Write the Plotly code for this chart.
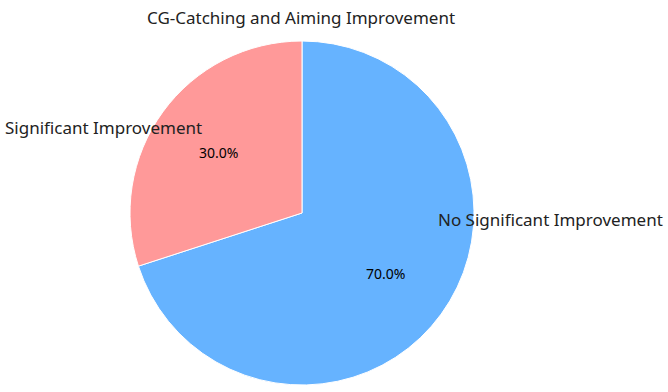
import math
import plotly.graph_objects as go

title = "CG-Catching and Aiming Improvement"
labels = ["Significant Improvement", "No Significant Improvement"]
values = [30, 70]
colors = ["#ff9999", "#66b3ff"]

W, H = 668, 392
cx, cy, r = 302, 213, 172

# plotly draws slices clockwise from 12 o'clock; reverse so the first category
# runs counterclockwise from the top as in the reference
fig = go.Figure(go.Pie(
    labels=labels[::-1], values=values[::-1], sort=False, direction="clockwise",
    rotation=0, marker=dict(colors=colors[::-1], line=dict(color="white", width=1)),
    textinfo="none", hoverinfo="label+percent", showlegend=False,
    domain=dict(x=[(cx - r) / W, (cx + r) / W], y=[(H - cy - r) / H, (H - cy + r) / H]),
))

font = "Noto Sans, DejaVu Sans, sans-serif"
ann = []
total = sum(values)
start = 90.0
for lab, v in zip(labels, values):
    span = 360.0 * v / total
    mid = math.radians(start + span / 2)
    start += span
    px = cx + 0.6 * r * math.cos(mid)
    py = cy - 0.6 * r * math.sin(mid)
    ann.append(dict(x=px / W, y=1 - py / H, xref="paper", yref="paper",
                    xanchor="center", yanchor="middle",
                    text=f"{100 * v / total:.1f}%", showarrow=False,
                    font=dict(family=font, size=14, color="black")))

# outer labels
ann.append(dict(x=204 / W, y=1 - 128 / H, xref="paper", yref="paper", xanchor="right",
                yanchor="middle", text=labels[0], showarrow=False,
                font=dict(family=font, size=17, color="#222")))
ann.append(dict(x=436 / W, y=1 - 220 / H, xref="paper", yref="paper", xanchor="left",
                yanchor="middle", text=labels[1], showarrow=False,
                font=dict(family=font, size=17, color="#222")))
ann.append(dict(x=301 / W, y=1 - 17 / H, xref="paper", yref="paper", xanchor="center",
                yanchor="middle", text=title, showarrow=False,
                font=dict(family=font, size=17, color="#222")))

fig.update_layout(width=W, height=H, margin=dict(l=0, r=0, t=0, b=0),
                  paper_bgcolor="white", plot_bgcolor="white", annotations=ann)
fig.write_html("out.html")
